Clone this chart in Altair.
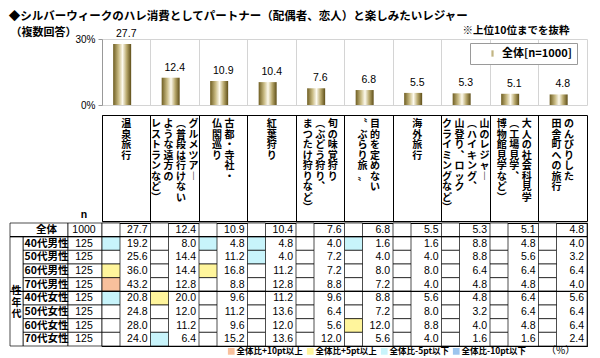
import altair as alt
import pandas as pd

JP = "Noto Sans CJK JP"
NUM = "Liberation Sans, Noto Sans CJK JP"

title_text = "◆シルバーウィークのハレ消費としてパートナー（配偶者、恋人）と楽しみたいレジャー"
subtitle_text = "（複数回答）"
note_text = "※上位10位までを抜粋"
legend_label = "全体[n=1000]"

categories = ["温泉旅行", "グルメツアー", "古都・寺社・仏閣巡り", "紅葉狩り", "旬の味覚狩り",
              "目的を定めない“ぶらり旅”", "海外旅行", "山のレジャー", "大人の社会科見学",
              "のんびりした田舎町への旅行"]

header_lines = [
    ["温泉旅行"],
    ["グルメツアー", "（普段は行けない", "ような遠方の", "レストランなど）"],
    ["古都・寺社・", "仏閣巡り"],
    ["紅葉狩り"],
    ["旬の味覚狩り", "（ぶどう狩り、", "まつたけ狩りなど）"],
    ["目的を定めない", "“ぶらり旅”"],
    ["海外旅行"],
    ["山のレジャー", "（ハイキング、", "山登り、ロック", "クライミングなど）"],
    ["大人の社会科見学", "（工場見学、", "博物館見学など）"],
    ["のんびりした", "田舎町への旅行"],
]

rows = ["全体", "40代男性", "50代男性", "60代男性", "70代男性",
        "40代女性", "50代女性", "60代女性", "70代女性"]
row_n = [1000, 125, 125, 125, 125, 125, 125, 125, 125]

values = [
    [27.7, 12.4, 10.9, 10.4, 7.6, 6.8, 5.5, 5.3, 5.1, 4.8],
    [19.2, 8.0, 4.8, 4.8, 4.0, 1.6, 1.6, 8.8, 4.8, 4.0],
    [25.6, 14.4, 11.2, 4.0, 7.2, 4.0, 4.0, 8.8, 5.6, 3.2],
    [36.0, 14.4, 16.8, 11.2, 7.2, 8.0, 8.0, 6.4, 6.4, 6.4],
    [43.2, 12.8, 8.8, 12.8, 8.8, 7.2, 4.0, 4.8, 4.8, 4.0],
    [20.8, 20.0, 9.6, 11.2, 9.6, 8.8, 5.6, 4.8, 6.4, 5.6],
    [24.8, 12.0, 11.2, 13.6, 6.4, 7.2, 8.0, 3.2, 6.4, 6.4],
    [28.0, 11.2, 9.6, 12.0, 5.6, 12.0, 8.8, 4.0, 4.8, 6.4],
    [24.0, 6.4, 15.2, 13.6, 12.0, 5.6, 4.0, 1.6, 1.6, 2.4],
]

hl_labels = ["全体比+10pt以上", "全体比+5pt以上", "全体比-5pt以下", "全体比-10pt以下"]
hl_colors = ["#f8c09c", "#fff59c", "#c8f4fb", "#9cc5ee"]

# ---------- derived tables ----------
totals = values[0]
bar_df = pd.DataFrame({"cat": categories, "v": totals})

vert_map = {"（": "︵", "）": "︶", "、": "︑", "ー": "︱", "“": "〝", "”": "〟"}
hdr_recs = []
for cat, cols in zip(categories, header_lines):
    n = len(cols)
    for j, s in enumerate(cols):
        hdr_recs.append({"cat": cat, "off": (n - 1) / 2 - j,
                         "txt": "\n".join(vert_map.get(c, c) for c in s)})
hdr_df = pd.DataFrame(hdr_recs)


def classify(v, t):
    d = v - t
    if d >= 10:
        return hl_labels[0]
    if d >= 5:
        return hl_labels[1]
    if d <= -10:
        return hl_labels[3]
    if d <= -5:
        return hl_labels[2]
    return "なし"


tbl_recs = []
for r, vals in zip(rows, values):
    for c, v, t in zip(categories, vals, totals):
        tbl_recs.append({"row": r, "cat": c, "v": v,
                         "hl": classify(v, t) if r != rows[0] else "なし"})
tbl_df = pd.DataFrame(tbl_recs)
n_df = pd.DataFrame({"row": rows, "n": row_n})

W = 485
BAR_H = 66
HDR_H = 106
TBL_H = 123

xs = alt.Scale(domain=categories, paddingInner=0, paddingOuter=0)

gradient = alt.Gradient(
    gradient="linear", x1=0, x2=1, y1=0, y2=0,
    stops=[alt.GradientStop(color="#6f5e22", offset=0),
           alt.GradientStop(color="#c9bb84", offset=0.3),
           alt.GradientStop(color="#fdfaee", offset=0.52),
           alt.GradientStop(color="#b8a86c", offset=0.75),
           alt.GradientStop(color="#5e4e18", offset=1)])

# ---------- bar chart ----------
x_bar = alt.X("cat:N", scale=xs, sort=categories,
              axis=alt.Axis(orient="top", labels=False, ticks=False, domain=False,
                            grid=True, gridColor="#d4d4d4", bandPosition=0,
                            title=note_text, titleX=467, titleY=-9, titleAlign="right",
                            titleBaseline="middle", titleFont=JP, titleFontSize=10.5,
                            titleFontWeight="bold", titleColor="black"))
y_bar = alt.Y("v:Q", scale=alt.Scale(domain=[0, 30], nice=False),
              axis=alt.Axis(values=[0, 10, 20, 30], labelExpr="datum.value + '%'",
                            grid=False, tickSize=4, tickColor="#999999",
                            domainColor="#999999", labelPadding=3,
                            labelFont=NUM, labelFontSize=10, labelColor="black",
                            title=subtitle_text, titleAngle=0, titleX=-92, titleY=-7,
                            titleAlign="left", titleBaseline="middle", titleFont=JP,
                            titleFontSize=11, titleFontWeight="bold", titleColor="black"))

bars = alt.Chart(bar_df).mark_bar(width=alt.RelativeBandSize(0.54), color=gradient).encode(
    x=x_bar, y=y_bar)
bar_labels = alt.Chart(bar_df).mark_text(baseline="bottom", dy=-5, fontSize=10.5,
                                         font=NUM, color="black").encode(
    x=alt.X("cat:N", scale=xs, sort=categories), y="v:Q",
    text=alt.Text("v:Q", format=".1f"))
legend_layer = alt.Chart(bar_df).mark_square().encode(
    color=alt.Color("series:N",
                    scale=alt.Scale(domain=[legend_label], range=["#a8964e"]),
                    legend=alt.Legend(orient="none", legendX=368, legendY=4, title=None,
                                      strokeColor="#9a9a9a", fillColor="white",
                                      padding=5, symbolOffset=12,
                                      symbolType="M-0.35,-1H0.35V1H-0.35Z",
                                      symbolSize=40, symbolStrokeWidth=0,
                                      labelFont=JP, labelFontSize=11,
                                      labelFontWeight="bold", labelColor="black",
                                      labelExpr="datum.label + '\u00a0'"))
).transform_filter("false")

bar_chart = alt.layer(bars, bar_labels, legend_layer).properties(
    width=W, height=BAR_H, view=alt.ViewBackground(stroke="#d4d4d4"))

# ---------- header chart ----------
hdr_text = alt.Chart(hdr_df).mark_text(
    baseline="top", align="center", lineBreak="\n", lineHeight=10.5,
    fontSize=10, font=JP, fontWeight="bold", color="black").encode(
    x=alt.X("cat:N", scale=xs, sort=categories,
            axis=alt.Axis(labels=False, ticks=False, domain=False, grid=True,
                          gridColor="black", gridOpacity=1, bandPosition=0, title=None)),
    xOffset=alt.XOffset("off:Q", scale=alt.Scale(domain=[-1.94, 1.94], nice=False,
                                                 zero=False)),
    y=alt.value(4),
    text="txt:N")
n_head = alt.Chart(pd.DataFrame({"t": ["n"]})).mark_text(
    fontSize=10.5, font=NUM, fontWeight="bold", baseline="middle").encode(
    x=alt.value(-18), y=alt.value(HDR_H - 6), text="t:N")
header_chart = alt.layer(hdr_text, n_head).properties(
    width=W, height=HDR_H, view=alt.ViewBackground(stroke="black"))

# ---------- table chart ----------
ys = alt.Scale(domain=rows, paddingInner=0, paddingOuter=0)

cells = alt.Chart(tbl_df).mark_rect(stroke="black", strokeWidth=0.7).encode(
    x=alt.X("cat:N", scale=xs, sort=categories, axis=None),
    y=alt.Y("row:N", scale=ys, sort=rows,
            axis=alt.Axis(title=None, ticks=False, tickSize=0, domain=False,
                          labelAlign="center", labelPadding=56, labelFont=JP,
                          labelFontSize=10.5, labelFontWeight="bold", labelColor="black")),
    color=alt.Color("hl:N",
                    scale=alt.Scale(domain=hl_labels + ["なし"],
                                    range=hl_colors + ["white"]),
                    legend=alt.Legend(values=hl_labels, orient="none", direction="horizontal",
                                      legendX=125, legendY=TBL_H + 1,
                                      title="（%）", titleOrient="right", titlePadding=20,
                                      titleFont=JP, titleFontSize=10, titleFontWeight="normal",
                                      titleColor="black", symbolType="square",
                                      symbolSize=45, symbolStrokeWidth=0, labelOffset=1,
                                      columnPadding=3, labelFont=JP, labelFontSize=8.5,
                                      labelFontWeight="bold", labelColor="black")))
cell_text = alt.Chart(tbl_df).mark_text(align="right", dx=-3, baseline="middle",
                                        fontSize=10.5, font=NUM, color="black").encode(
    x=alt.X("cat:N", scale=xs, sort=categories, bandPosition=1),
    y=alt.Y("row:N", scale=ys, sort=rows),
    text=alt.Text("v:Q", format=".1f"))

n_cells = alt.Chart(n_df).mark_rect(fill="white", stroke="black", strokeWidth=0.7).encode(
    x=alt.value(-34), x2=alt.value(0), y=alt.Y("row:N", scale=ys, sort=rows))
n_text = alt.Chart(n_df).mark_text(fontSize=10.5, font=NUM, baseline="middle").encode(
    x=alt.value(-18), y=alt.Y("row:N", scale=ys, sort=rows), text="n:Q")
lab_cells = alt.Chart(n_df.iloc[1:]).mark_rect(fill="white", stroke="black",
                                               strokeWidth=0.7).encode(
    x=alt.value(-79), x2=alt.value(-34), y=alt.Y("row:N", scale=ys, sort=rows))
total_cell = alt.Chart(n_df.iloc[:1]).mark_rect(fill="white", stroke="black",
                                                strokeWidth=0.7).encode(
    x=alt.value(-92), x2=alt.value(-34), y=alt.Y("row:N", scale=ys, sort=rows))
group_cell = alt.Chart(n_df.iloc[:1]).mark_rect(fill="white", stroke="black",
                                                strokeWidth=0.7).encode(
    x=alt.value(-92), x2=alt.value(-79),
    y=alt.Y(datum=rows[1], type="nominal", scale=ys, bandPosition=0),
    y2=alt.value(TBL_H))
group_text = alt.Chart(n_df.iloc[:1]).mark_text(
    lineBreak="\n", lineHeight=11.5, baseline="middle", fontSize=10, font=JP,
    fontWeight="bold").encode(
    x=alt.value(-85.5),
    y=alt.Y(datum=rows[5], type="nominal", scale=ys, bandPosition=0),
    text=alt.value("性\n年\n代"))
sep_rules = alt.Chart(pd.DataFrame({"row": [rows[1], rows[5]]})).mark_rule(
    color="black", strokeWidth=1.4).encode(
    y=alt.Y("row:N", scale=ys, sort=rows, bandPosition=0),
    x=alt.value(-92), x2=alt.value(W))

table_chart = alt.layer(total_cell, lab_cells, group_cell, n_cells, cells, cell_text,
                        n_text, group_text, sep_rules).properties(
    width=W, height=TBL_H, view=alt.ViewBackground(stroke="black", strokeWidth=1.2))

lower = alt.vconcat(header_chart, table_chart, spacing=0).resolve_scale(color="independent")

chart = alt.vconcat(
    bar_chart,
    lower,
    spacing=3,
    title=alt.TitleParams(text=title_text, anchor="start", font=JP, fontSize=11.5,
                          fontWeight="bold", color="black", offset=2),
).resolve_scale(color="independent").properties(
    padding={"left": 0, "top": 3, "right": 0, "bottom": 0}, background="white"
).configure_view(strokeWidth=1)

chart.save("out.html", embed_options={"renderer": "svg", "actions": False})
